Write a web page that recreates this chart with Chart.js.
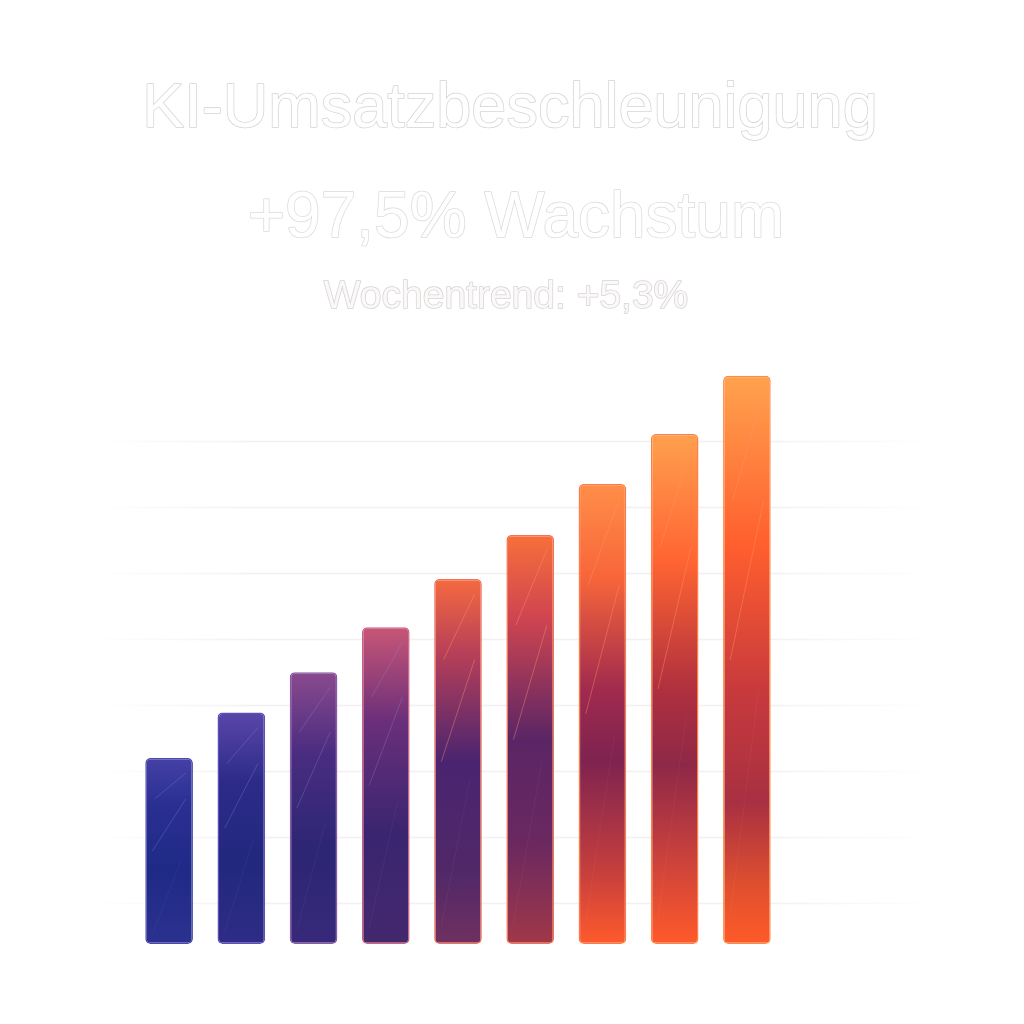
<!DOCTYPE html>
<html>
<head>
<meta charset="utf-8">
<style>
  html, body { margin: 0; padding: 0; background: #ffffff; }
  #wrap { width: 1024px; height: 1024px; position: relative; }
</style>
<script src="https://cdn.jsdelivr.net/npm/chart.js@4.4.1/dist/chart.umd.min.js"></script>
</head>
<body>
<div id="wrap"><canvas id="c" width="1024" height="1024"></canvas></div>
<script>
// ---- data ----
const categories = ["W1", "W2", "W3", "W4", "W5", "W6", "W7", "W8", "W9"];
const revenue = [32.0, 38.9, 45.0, 51.8, 59.1, 65.8, 73.5, 81.1, 89.9];
const gridTicks = [10, 20, 30, 40, 50, 60, 70, 80];
const axisMin = 3.8;
const axisMax = 92;
const titleLine1 = "KI-Umsatzbeschleunigung";
const titleLine2 = "+97,5% Wachstum";
const subtitleText = "Wochentrend: +5,3%";

// per-bar gradient stops (top -> bottom)
const barStops = [
  [[0, "#4540a6"], [0.25, "#2a2f92"], [0.6, "#1f2a86"], [1, "#2b318f"]],
  [[0, "#5a46aa"], [0.3, "#2c2b88"], [0.65, "#22287e"], [1, "#2e2c86"]],
  [[0, "#8a4a8e"], [0.3, "#4a2c80"], [0.65, "#2c2674"], [1, "#37297a"]],
  [[0, "#c85676"], [0.3, "#6a2f7a"], [0.65, "#3a2570"], [1, "#44286e"]],
  [[0, "#f56a40"], [0.2, "#b84058"], [0.5, "#4a2470"], [0.8, "#502868"], [1, "#703060"]],
  [[0, "#f7703a"], [0.2, "#d04550"], [0.5, "#5a2565"], [0.75, "#6a2860"], [1, "#a03848"]],
  [[0, "#ff8e48"], [0.2, "#f8663a"], [0.45, "#a02a4e"], [0.6, "#7e2350"], [0.85, "#c8403c"], [1, "#ff5a2c"]],
  [[0, "#ffa04e"], [0.25, "#ff6432"], [0.5, "#b0303e"], [0.65, "#8e2848"], [0.85, "#d0443a"], [1, "#ff5a2a"]],
  [[0, "#ffa24e"], [0.3, "#ff5e2e"], [0.55, "#c83a3c"], [0.75, "#a83042"], [0.9, "#e0502e"], [1, "#ff5a28"]]
];
const borderCols = ["#4a48b0", "#5e50b8", "#8a5aa8", "#d06080", "#f5705a", "#f77050", "#ff7a48", "#ff8048", "#ff8a48"];

function barGradient(ctx) {
  const chart = ctx.chart;
  const i = ctx.dataIndex;
  if (i === undefined || !chart.chartArea) return "#333";
  const y = chart.scales.y;
  const top = y.getPixelForValue(revenue[i]);
  const bottom = y.getPixelForValue(axisMin);
  const g = chart.ctx.createLinearGradient(0, top, 0, bottom);
  barStops[i].forEach(s => g.addColorStop(s[0], s[1]));
  return g;
}

const gridPlugin = {
  id: "softGrid",
  beforeDatasetsDraw(chart) {
    const c = chart.ctx;
    const y = chart.scales.y;
    c.save();
    gridTicks.forEach((t) => {
      const py = Math.round(y.getPixelForValue(t)) + 0.5;
      const x0 = 90, x1 = 935;
      const g = c.createLinearGradient(x0, 0, x1, 0);
      g.addColorStop(0, "rgba(200,180,190,0)");
      g.addColorStop(0.2, "rgba(200,180,190,0.2)");
      g.addColorStop(0.8, "rgba(200,180,190,0.2)");
      g.addColorStop(1, "rgba(200,180,190,0)");
      c.strokeStyle = g;
      c.lineWidth = 1.5;
      c.beginPath();
      c.moveTo(x0, py);
      c.lineTo(x1, py);
      c.stroke();
    });
    c.restore();
  }
};

const streakPlugin = {
  id: "streaks",
  afterDatasetsDraw(chart) {
    const c = chart.ctx;
    const meta = chart.getDatasetMeta(0);
    c.save();
    meta.data.forEach((bar, i) => {
      const w = bar.width;
      const left = bar.x - w / 2;
      const top = bar.y;
      const h = bar.base - bar.y;
      c.strokeStyle = i < 4 ? "rgba(140,140,230,0.3)" : "rgba(255,150,110,0.4)";
      c.lineWidth = 1;
      c.beginPath();
      c.moveTo(left + w * 0.2, top + h * 0.22);
      c.lineTo(left + w * 0.85, top + 15);
      c.moveTo(left + w * 0.15, top + h * 0.5);
      c.lineTo(left + w * 0.85, top + h * 0.22);
      c.stroke();
      c.strokeStyle = "rgba(255,255,255,0.04)";
      c.beginPath();
      c.moveTo(left + w * 0.15, bar.base - h * 0.05);
      c.lineTo(left + w * 0.75, bar.base - h * 0.45);
      c.stroke();
    });
    c.restore();
  }
};

const titlePlugin = {
  id: "outlineTitle",
  afterDraw(chart) {
    const c = chart.ctx;
    c.save();
    c.textAlign = "center";
    c.textBaseline = "alphabetic";
    c.lineJoin = "round";
    const lines = [
      { t: titleLine1, x: 510, y: 127, size: 63, stroke: "rgba(195,190,195,0.7)", fill: "#ffffff" },
      { t: titleLine2, x: 516, y: 237, size: 64, stroke: "rgba(205,195,200,0.65)", fill: "#ffffff" },
      { t: subtitleText, x: 506, y: 308, size: 39, stroke: "rgba(200,190,195,0.7)", fill: "#fbf8f8" }
    ];
    lines.forEach(l => {
      c.font = "400 " + l.size + "px 'Liberation Sans', Arial, sans-serif";
      c.lineWidth = 1.5;
      c.strokeStyle = l.stroke;
      c.strokeText(l.t, l.x, l.y);
      c.fillStyle = l.fill;
      c.fillText(l.t, l.x, l.y);
    });
    c.restore();
  }
};

new Chart(document.getElementById("c"), {
  type: "bar",
  data: {
    labels: categories,
    datasets: [{
      label: "Umsatz",
      data: revenue,
      base: axisMin,
      backgroundColor: barGradient,
      borderColor: (ctx) => borderCols[ctx.dataIndex] || "#888",
      borderWidth: 1.5,
      borderRadius: 5,
      borderSkipped: false,
      barPercentage: 0.66,
      categoryPercentage: 1.0,
      clip: false
    }]
  },
  options: {
    responsive: false,
    animation: false,
    devicePixelRatio: 1,
    layout: { padding: { left: 133, right: 241, top: 362, bottom: 80 } },
    plugins: {
      legend: { display: false },
      tooltip: { enabled: false },
      title: { display: false, text: [titleLine1, titleLine2] },
      subtitle: { display: false, text: subtitleText }
    },
    scales: {
      x: { display: false, offset: true },
      y: {
        display: false,
        min: axisMin,
        max: axisMax,
        afterBuildTicks: (s) => { s.ticks = gridTicks.map(v => ({ value: v })); }
      }
    }
  },
  plugins: [gridPlugin, streakPlugin, titlePlugin]
});
</script>
</body>
</html>
